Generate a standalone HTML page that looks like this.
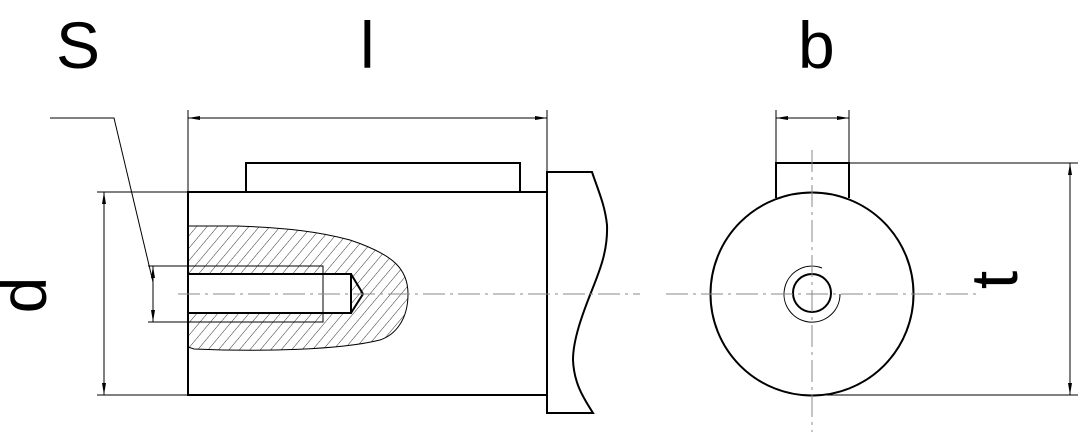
<!DOCTYPE html>
<html><head><style>body{margin:0;background:#fff}svg{display:block}</style></head><body>
<svg width="1080" height="435" viewBox="0 0 1080 435" xmlns="http://www.w3.org/2000/svg">
<defs>
<pattern id="h" width="8" height="8" patternUnits="userSpaceOnUse" patternTransform="rotate(40)">
<line x1="0" y1="0" x2="0" y2="8" stroke="#000" stroke-width="0.8"/></pattern>
<marker id="a" markerWidth="12" markerHeight="6" refX="12" refY="3" orient="auto-start-reverse" markerUnits="userSpaceOnUse"><path d="M0,1 L12,3 L0,5 Z" fill="#000"/></marker>
</defs>
<g font-family="Liberation Sans, sans-serif" font-size="66" fill="#000">
<text x="56" y="68">S</text>
<text x="360" y="68">l</text>
<text x="798" y="68">b</text>
<text transform="translate(46,295) rotate(-90)" text-anchor="middle">d</text>
<text transform="translate(1017,280) rotate(-90)" text-anchor="middle">t</text>
</g>
<!-- hatch -->
<path d="M188,226 L237,226 C290,228 320,232 350,240 C395,255 408,270 408,294 C408,320 395,335 380,340 C340,350 260,352 194,349 L188,347 Z" fill="url(#h)" stroke="#000" stroke-width="1"/>
<rect x="188" y="274" width="163" height="39" fill="#fff" stroke="#000" stroke-width="2"/>
<path d="M351,274 L363,294 L351,313" fill="none" stroke="#000" stroke-width="2"/>
<g fill="none" stroke="#000" stroke-width="2">
<rect x="188" y="192" width="359" height="203"/>
<path d="M246,192 V163 H520 V192"/>
<path d="M547,172 H592 C598,190 605,205 607,225 C608,250 600,270 592,290 C582,315 573,340 573,360 C574,385 585,400 593,413 H547 Z"/>
<circle cx="812" cy="294" r="101.5"/>
<path d="M776,198 V163 H849 V198"/>
<circle cx="812" cy="293" r="19"/>
</g>
<g fill="none" stroke="#000" stroke-width="1">
<path d="M840,294 A28,28 0 1 1 822,268"/>
<path d="M188,192 V110 M547,172 V110"/>
<line x1="188" y1="118" x2="547" y2="118" marker-start="url(#a)" marker-end="url(#a)"/>
<path d="M97,192 H188 M97,395 H188"/>
<line x1="104" y1="192" x2="104" y2="395" marker-start="url(#a)" marker-end="url(#a)"/>
<path d="M148,266 H323 V322 H148"/>
<line x1="153" y1="266" x2="153" y2="322" marker-start="url(#a)" marker-end="url(#a)"/>
<path d="M50,118 H114 L153,282"/>
<path d="M776,163 V110 M849,163 V110"/>
<line x1="776" y1="118" x2="849" y2="118" marker-start="url(#a)" marker-end="url(#a)"/>
<path d="M849,163 H1078 M812,395 H1078"/>
<line x1="1070" y1="163" x2="1070" y2="395" marker-start="url(#a)" marker-end="url(#a)"/>
</g>
<g stroke="#888" stroke-width="1" stroke-dasharray="22,5,3,5">
<line x1="178" y1="294" x2="640" y2="294"/>
<line x1="666" y1="294" x2="980" y2="294"/>
<line x1="812" y1="150" x2="812" y2="432"/>
</g>
</svg>
</body></html>
